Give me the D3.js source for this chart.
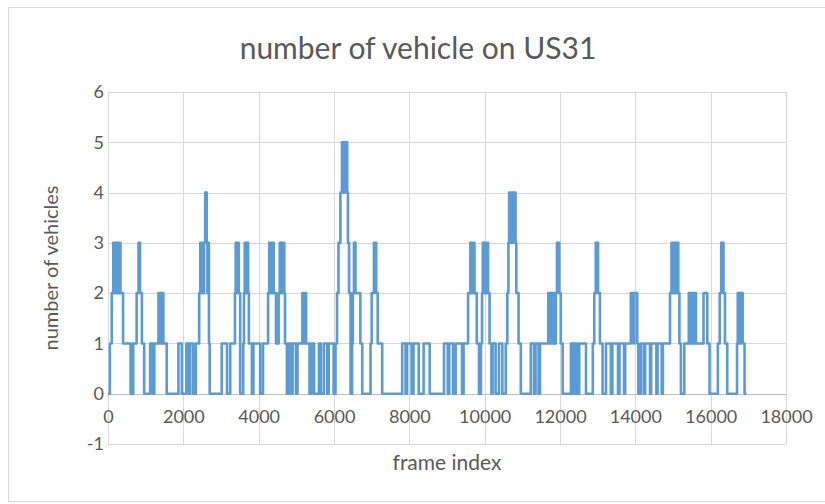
<!DOCTYPE html>
<html>
<head>
<meta charset="utf-8">
<script src="https://cdn.jsdelivr.net/npm/d3@7"></script>
<style>
  html, body { margin: 0; padding: 0; background: #fff; }
  svg { display: block; }
</style>
</head>
<body>
<svg id="chart" width="825" height="504"></svg>
<script>
// Frame indices where the vehicle count changes, and the count from that frame on
const frames = [
  0, 50, 100, 140, 170, 190, 220, 240, 270, 290, 330, 400, 600, 670, 760, 810, 850, 900, 960,
  1120, 1190, 1230, 1340, 1360, 1380, 1420, 1440, 1470, 1560, 1870, 1960, 2080, 2150, 2180, 2260,
  2330, 2420, 2450, 2480, 2500, 2530, 2550, 2580, 2620, 2640, 2660, 2680, 2700,
  3020, 3160, 3245, 3370, 3390, 3420, 3440, 3470, 3510, 3590, 3610, 3630, 3660, 3690, 3720, 3740,
  3820, 3860, 4040, 4115, 4250, 4280, 4310, 4330, 4360, 4380, 4400, 4460, 4530, 4560, 4590, 4610,
  4640, 4660, 4680, 4700, 4750, 4800, 4870, 4900, 4990, 5030, 5160, 5190, 5210, 5260, 5350, 5400,
  5470, 5600, 5650, 5730, 5820, 5860, 5990, 6040, 6080, 6120, 6170, 6210, 6240, 6260, 6290, 6310,
  6350, 6370, 6400, 6440, 6480, 6500, 6530, 6570, 6700, 6750, 6970, 7000, 7060, 7120, 7160, 7280,
  7810, 7900, 7940, 8060, 8110, 8250, 8380, 8540, 8920, 9020, 9060, 9160, 9230, 9400, 9440, 9560,
  9620, 9660, 9690, 9730, 9790, 9850, 9900, 9930, 9950, 9990, 10010, 10040, 10070, 10090, 10130,
  10180, 10210, 10290, 10380, 10470, 10560, 10600, 10630, 10650, 10690, 10710, 10750, 10770, 10820,
  10840, 10900, 10960, 11225, 11310, 11350, 11430, 11470, 11690, 11720, 11740, 11770, 11790, 11820,
  11840, 11870, 11890, 11920, 11980, 12020, 12070, 12290, 12350, 12390, 12450, 12510, 12690, 12870,
  12910, 12950, 13010, 13060, 13130, 13220, 13350, 13390, 13540, 13580, 13700, 13730, 13880, 13950,
  13970, 14050, 14080, 14150, 14230, 14260, 14390, 14420, 14560, 14590, 14700, 14730, 14920, 14960,
  14990, 15010, 15040, 15060, 15100, 15120, 15140, 15170, 15210, 15300, 15420, 15440, 15460, 15500,
  15520, 15560, 15580, 15610, 15810, 15910, 15970, 16190, 16240, 16280, 16340, 16380, 16440, 16700,
  16720, 16770, 16790, 16850, 16900, 16950
];
const counts = [
  0, 1, 2, 3, 2, 3, 2, 3, 2, 3, 2, 1, 0, 1, 2, 3, 2, 1, 0,
  1, 0, 1, 2, 1, 2, 1, 2, 1, 0, 1, 0, 1, 0, 1, 0,
  1, 2, 3, 2, 3, 2, 3, 4, 3, 2, 3, 1, 0,
  1, 0, 1, 2, 3, 2, 3, 2, 0, 1, 2, 3, 2, 3, 2, 1,
  0, 1, 0, 1, 2, 3, 2, 3, 2, 3, 2, 1, 2, 3, 2, 3,
  2, 3, 2, 1, 0, 1, 0, 1, 0, 1, 2, 1, 2, 1, 0, 1,
  0, 1, 0, 1, 0, 1, 0, 1, 2, 3, 4, 5, 4, 5, 4, 5,
  4, 3, 2, 0, 1, 2, 3, 2, 1, 0, 1, 2, 3, 2, 1, 0,
  1, 0, 1, 0, 1, 0, 1, 0, 1, 0, 1, 0, 1, 0, 1, 2,
  3, 2, 3, 2, 1, 0, 1, 2, 3, 2, 3, 2, 3, 2, 1,
  0, 1, 0, 1, 0, 1, 2, 3, 4, 3, 4, 3, 4, 3,
  2, 1, 0, 1, 0, 1, 0, 1, 2, 1, 2, 1, 2, 1,
  2, 1, 2, 3, 2, 1, 0, 1, 0, 1, 0, 1, 0, 1,
  2, 3, 2, 1, 0, 1, 0, 1, 0, 1, 0, 1, 2, 1,
  2, 1, 0, 1, 0, 1, 0, 1, 0, 1, 0, 1, 2, 3,
  2, 3, 2, 3, 2, 3, 2, 1, 0, 1, 2, 1, 2, 1,
  2, 1, 2, 1, 2, 1, 0, 1, 2, 3, 2, 1, 0, 1,
  2, 1, 2, 1, 0, 0
];

const xTicks = [0, 2000, 4000, 6000, 8000, 10000, 12000, 14000, 16000, 18000];
const yTicks = [-1, 0, 1, 2, 3, 4, 5, 6];

const titleText = "number of vehicle on US31";
const xTitle = "frame index";
const yTitle = "number of vehicles";

const svg = d3.select("#chart");
const W = 825;
const plot = { left: 108, right: 786, top: 92, bottom: 444 };
const font = "Lato, 'Open Sans', sans-serif";
const textColor = "#595959";
const plainNumber = d => String(d);

// Chart frame
svg.append("rect")
  .attr("x", 8.5).attr("y", 7.5)
  .attr("width", W + 10).attr("height", 494)
  .attr("fill", "#fff").attr("stroke", "#d9d9d9");

const x = d3.scaleLinear().domain([0, 18000]).range([plot.left, plot.right]);
const y = d3.scaleLinear().domain([-1, 6]).range([plot.bottom, plot.top]);

// Gridlines
const grid = svg.append("g").attr("shape-rendering", "crispEdges");
grid.selectAll("line.v").data(xTicks).join("line")
  .attr("class", "v")
  .attr("x1", d => Math.round(x(d)) + 0.5).attr("x2", d => Math.round(x(d)) + 0.5)
  .attr("y1", plot.top).attr("y2", plot.bottom)
  .attr("stroke", "#d9d9d9");
grid.selectAll("line.h").data(yTicks).join("line")
  .attr("class", "h")
  .attr("x1", plot.left).attr("x2", plot.right)
  .attr("y1", d => Math.round(y(d)) + 0.5).attr("y2", d => Math.round(y(d)) + 0.5)
  .attr("stroke", d => d === 0 ? "#bfbfbf" : "#d9d9d9");

// Y axis labels
const yAxis = d3.axisLeft(y).tickValues(yTicks).tickSize(0).tickPadding(4)
  .tickFormat(plainNumber);
const gy = svg.append("g").attr("transform", `translate(${plot.left},0)`).call(yAxis);
gy.select(".domain").remove();
gy.selectAll("text").attr("font-family", font).attr("font-size", 18).attr("fill", textColor);

// X axis labels sit just under the zero line
const xAxis = d3.axisBottom(x).tickValues(xTicks).tickSize(0).tickPadding(17)
  .tickFormat(plainNumber);
const gx = svg.append("g").attr("transform", `translate(0,${y(0)})`).call(xAxis);
gx.select(".domain").remove();
gx.selectAll("text").attr("font-family", font).attr("font-size", 18).attr("fill", textColor);

// Series
const series = frames.map((f, i) => ({ f, v: counts[i] }));
const line = d3.line()
  .x(d => x(d.f))
  .y(d => y(d.v))
  .curve(d3.curveStepAfter);
svg.append("path")
  .datum(series)
  .attr("d", line)
  .attr("fill", "none")
  .attr("stroke", "#5b9bd5")
  .attr("stroke-width", 2.6)
  .attr("stroke-linejoin", "round");

// Titles
svg.append("text")
  .attr("x", 418).attr("y", 59)
  .attr("text-anchor", "middle")
  .attr("font-family", font).attr("font-size", 30)
  .attr("fill", textColor)
  .text(titleText);

svg.append("text")
  .attr("x", 447).attr("y", 470)
  .attr("text-anchor", "middle")
  .attr("font-family", font).attr("font-size", 21)
  .attr("fill", textColor)
  .text(xTitle);

svg.append("text")
  .attr("transform", `translate(58,${(plot.top + plot.bottom) / 2}) rotate(-90)`)
  .attr("text-anchor", "middle")
  .attr("font-family", font).attr("font-size", 20)
  .attr("fill", textColor)
  .text(yTitle);
</script>
</body>
</html>
